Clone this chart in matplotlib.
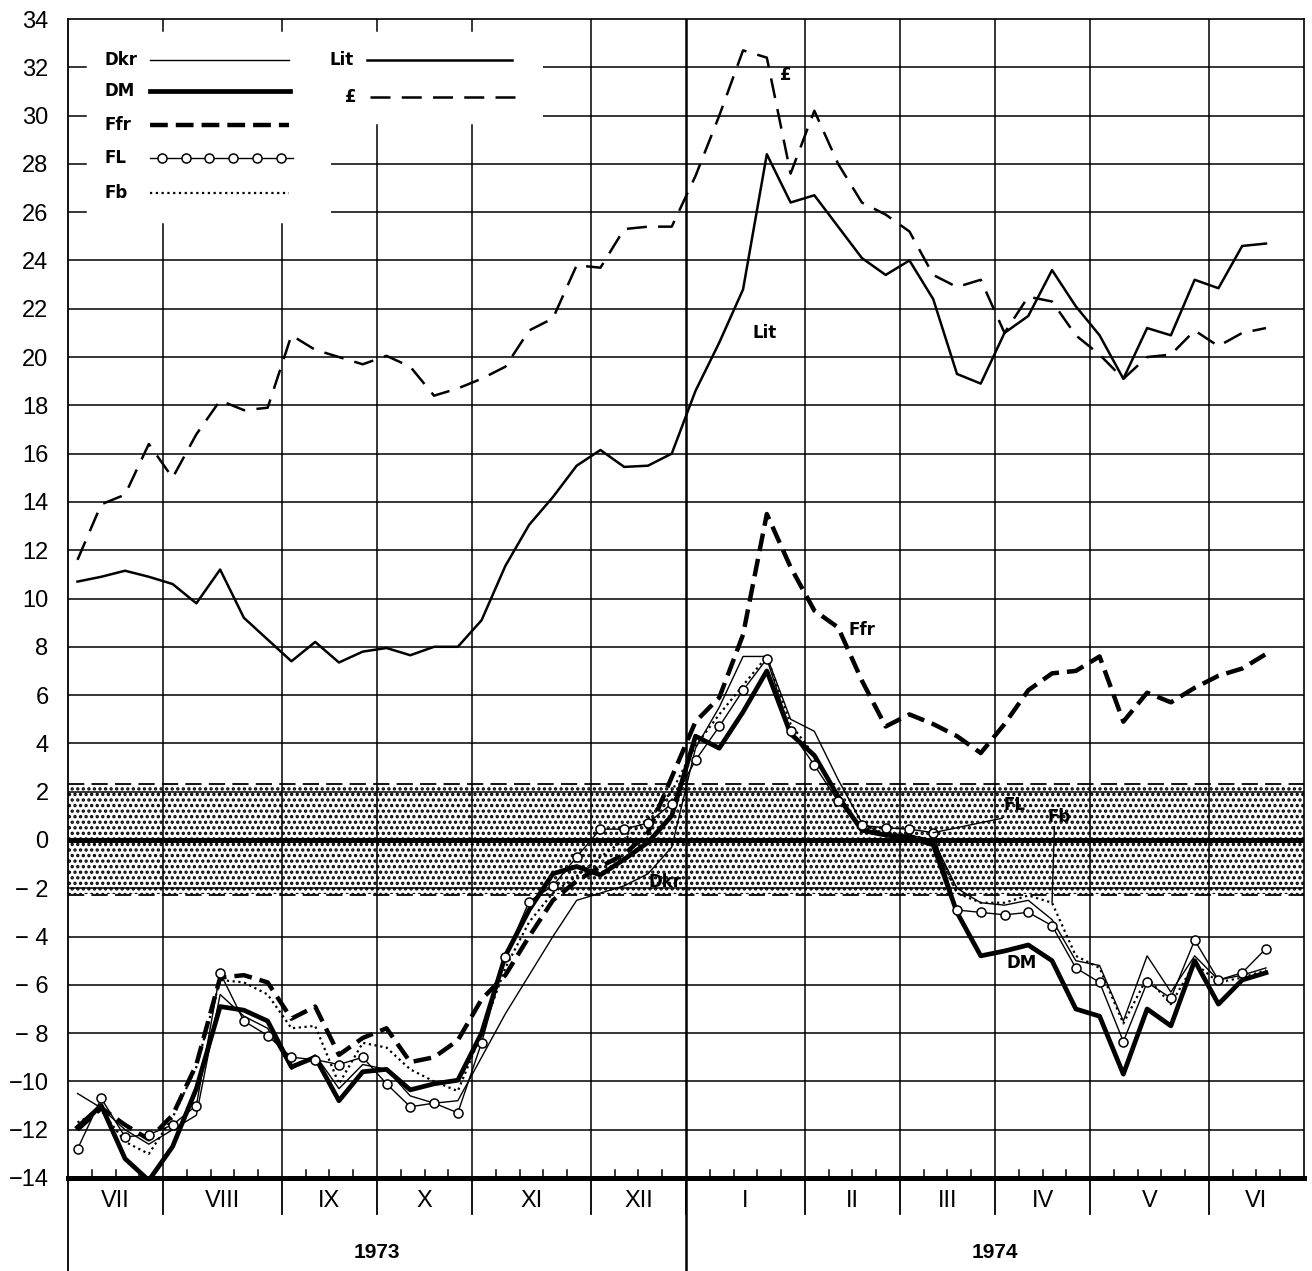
import numpy as np
import matplotlib
matplotlib.use("Agg")
from matplotlib import pyplot as plt

plt.rcParams["font.family"] = ["Liberation Sans", "DejaVu Sans"]
plt.rcParams["hatch.linewidth"] = 1.6

# weekly observations, July 1973 - June 1974 (deviation in %)
gbp = [11.6, 13.9, 14.3, 16.4, 15.0, 16.8, 18.2, 17.8, 17.9, 20.9,
       20.3, 20.0, 19.7, 20.05, 19.6, 18.4, 18.7, 19.1, 19.6, 21.1,
       21.6, 23.8, 23.7, 25.3, 25.4, 25.4, 27.5, 30.0, 32.7, 32.4,
       27.6, 30.2, 28.0, 26.4, 25.9, 25.2, 23.4, 22.9, 23.2, 21.0,
       22.5, 22.3, 20.9, 20.1, 19.1, 20.0, 20.1, 21.1, 20.45, 21.0, 21.2]
lit = [10.7, 10.9, 11.15, 10.9, 10.6, 9.8, 11.2, 9.2, 8.3, 7.4,
       8.2, 7.35, 7.8, 7.95, 7.65, 8.0, 8.0, 9.1, 11.35, 13.05,
       14.2, 15.5, 16.15, 15.45, 15.5, 16.0, 18.6, 20.6, 22.8, 28.4,
       26.4, 26.7, 25.4, 24.1, 23.4, 24.0, 22.4, 19.3, 18.9, 21.0,
       21.7, 23.6, 22.1, 20.9, 19.1, 21.2, 20.9, 23.2, 22.85, 24.6, 24.7]
ffr = [-12.0, -11.1, -11.8, -12.4, -11.4, -9.3, -5.7, -5.6, -5.9, -7.4,
       -6.9, -8.9, -8.2, -7.8, -9.2, -9.0, -8.3, -6.6, -5.6, -4.0,
       -2.5, -1.7, -1.1, -0.6, 0.3, 2.6, 4.9, 5.9, 8.5, 13.5,
       11.3, 9.5, 8.8, 6.6, 4.7, 5.2, 4.8, 4.3, 3.6, 4.8,
       6.2, 6.9, 7.0, 7.6, 4.9, 6.1, 5.7, 6.3, 6.8, 7.1, 7.7]
dm = [-11.9, -11.0, -13.2, -14.1, -12.7, -10.3, -6.9, -7.05, -7.5, -9.4,
      -9.0, -10.8, -9.6, -9.5, -10.35, -10.1, -9.95, -8.0, -4.8, -2.9,
      -1.4, -1.1, -1.45, -0.8, -0.1, 1.0, 4.3, 3.8, 5.3, 7.0,
      4.4, 3.5, 1.8, 0.4, 0.2, 0.1, -0.2, -3.0, -4.8, -4.6,
      -4.35, -5.0, -7.0, -7.3, -9.7, -7.0, -7.7, -5.0, -6.8, -5.8, -5.5]
dkr = [-10.5, -11.1, -12.0, -12.6, -12.0, -11.4, -6.4, -7.3, -7.8, -9.5,
       -8.9, -10.3, -9.3, -9.5, -10.6, -10.9, -10.8, -9.0, -7.2, -5.6,
       -4.0, -2.5, -2.2, -1.9, -1.4, -0.3, 3.8, 5.5, 7.6, 7.6,
       5.0, 4.5, 2.5, 0.7, 0.2, 0.2, 0.0, -2.0, -2.6, -2.7,
       -2.5, -3.3, -5.0, -5.2, -7.5, -4.8, -6.3, -4.8, -5.8, -5.6, -5.3]
fl = [-12.8, -10.7, -12.3, -12.2, -11.8, -11.0, -5.5, -7.5, -8.1, -9.0,
      -9.1, -9.3, -9.0, -10.1, -11.05, -10.9, -11.3, -8.4, -4.85, -2.55,
      -1.9, -0.7, 0.45, 0.45, 0.7, 1.5, 3.3, 4.7, 6.2, 7.5,
      4.5, 3.1, 1.6, 0.6, 0.5, 0.45, 0.3, -2.9, -3.0, -3.1,
      -3.0, -3.55, -5.3, -5.9, -8.35, -5.9, -6.55, -4.15, -5.8, -5.5, -4.5]
fb = [-11.7, -11.2, -12.5, -13.0, -11.5, -9.4, -5.8, -5.9, -6.4, -7.8,
      -7.7, -10.1, -8.4, -8.6, -9.5, -10.0, -10.4, -8.0, -5.3, -3.4,
      -2.2, -1.5, -0.7, 0.0, 0.9, 2.0, 3.9, 5.2, 6.4, 7.6,
      4.8, 3.5, 1.8, 0.5, 0.3, 0.2, 0.0, -2.2, -2.6, -2.6,
      -2.3, -2.6, -4.8, -5.3, -7.6, -5.7, -6.8, -5.1, -5.9, -5.7, -5.4]

months = ["VII", "VIII", "IX", "X", "XI", "XII", "I", "II", "III", "IV", "V", "VI"]
weeks_in_month = [4, 5, 4, 4, 5, 4, 5, 4, 4, 4, 5, 4]
years = ["1973", "1974"]

week_pos = np.arange(len(gbp)) + 0.4
bounds = np.concatenate([[0], np.cumsum(weeks_in_month)])

fig = plt.figure(figsize=(13.12, 12.71), dpi=100)
ax = fig.add_axes([68/1312, 1 - 1178/1271, 1236/1312, 1159/1271])
ax.set_xlim(0, 52)
ax.set_ylim(-14, 34)

# grid, leaving the legend corner blank
box_a = (11.06, 25.5)
box_b = (19.98, 29.6)
for y in range(-12, 34, 2):
    lw = 3.6 if y == 0 else 1.1
    x0 = 0
    if y >= box_b[1]:
        x0 = box_b[0]
    elif y >= box_a[1]:
        x0 = box_a[0]
    if x0 > 0:
        ax.plot([0, 0.75], [y, y], color="black", lw=1.1, zorder=1)
    ax.plot([x0, 52], [y, y], color="black", lw=lw, zorder=1,
            solid_capstyle="butt")
for b in bounds[1:-1]:
    lw = 1.8 if b == 26 else 1.1
    y1 = 34
    if b < box_a[0]:
        y1 = box_a[1]
    elif b < box_b[0]:
        y1 = box_b[1]
    if y1 < 34:
        ax.plot([b, b], [33.5, 34], color="black", lw=lw, zorder=1)
    ax.plot([b, b], [-14, y1], color="black", lw=lw, zorder=1)

# weekly ticks on the base line
for w in range(1, 52):
    if w not in bounds:
        ax.plot([w, w], [-14, -13.65], color="black", lw=1.1, zorder=1)

# intervention band
ax.fill_between([0, 52], -2.25, 2.25, facecolor="none", edgecolor="black",
                hatch="...", linewidth=0, zorder=0.5)
for y in (2.3, -2.3):
    ax.plot([0, 52], [y, y], color="black", lw=1.3, dashes=(9, 4), zorder=1)

# series
ax.plot(week_pos, gbp, color="black", lw=1.8, dashes=(8, 4.5), zorder=3)
ax.plot(week_pos, lit, color="black", lw=1.8, zorder=3)
ax.plot(week_pos, ffr, color="black", lw=3.2, dashes=(4, 1.8), zorder=3)
ax.plot(week_pos, fb, color="black", lw=1.6, dashes=(1, 1.6), zorder=3)
ax.plot(week_pos, dkr, color="black", lw=1.0, zorder=3)
ax.plot(week_pos, dm, color="black", lw=3.4, zorder=4)
ax.plot(week_pos, fl, color="black", lw=1.0, marker="o", ms=6.5,
        mfc="white", mec="black", mew=1.1, zorder=5)

# labels on the curves
lab = dict(fontsize=12, fontweight="bold", family="DejaVu Sans", zorder=6)
ax.text(29.3, 21.0, "Lit", ha="center", va="center", **lab)
ax.text(30.2, 31.7, "£", ha="center", va="center", **lab)
ax.text(33.4, 8.7, "Ffr", ha="center", va="center", **lab)
ax.text(25.1, -1.75, "Dkr", ha="center", va="center", **lab)
ax.text(40.1, -5.1, "DM", ha="center", va="center", **lab)
ax.text(39.8, 1.45, "FL", ha="center", va="center", **lab)
ax.text(41.7, 0.95, "Fb", ha="center", va="center", **lab)
ax.plot([36.4, 39.3], [0.3, 0.9], color="black", lw=1.0, zorder=5)
ax.plot([41.4, 41.5], [-2.6, 0.55], color="black", lw=1.0, zorder=5)

# legend
def key(tx, ty, text, x0, x1, **kw):
    ax.text(tx, ty, text, ha="left", va="center", **lab)
    ax.plot([x0, x1], [ty, ty], color="black", zorder=6, **kw)

key(1.55, 32.3, "Dkr", 3.45, 9.3, lw=1.0)
key(1.55, 31.0, "DM", 3.45, 9.35, lw=3.4)
key(1.55, 29.6, "Ffr", 3.45, 9.3, lw=3.2, dashes=(4, 1.8))
ax.text(1.55, 28.25, "FL", ha="left", va="center", **lab)
ax.plot(np.linspace(3.45, 9.45, 13), [28.25] * 13, color="black", lw=1.0,
        marker="o", ms=6.5, mfc="white", mec="black", mew=1.1,
        markevery=list(range(1, 13, 2)), zorder=6)
key(1.55, 26.8, "Fb", 3.45, 9.3, lw=1.6, dashes=(1, 1.6))
key(11.0, 32.3, "Lit", 12.6, 18.7, lw=1.8)
key(11.65, 30.75, "£", 12.7, 18.8, lw=1.8, dashes=(8, 4.5))

# axes
ax.set_yticks(range(-14, 35, 2))
ax.set_yticklabels([("\u2212" + (" " if abs(v) < 10 else "") + str(abs(v)))
                    if v < 0 else str(v) for v in range(-14, 35, 2)])
ax.set_xticks([])
ax.tick_params(axis="y", length=0, pad=14, labelsize=17)
for s in ("top", "right"):
    ax.spines[s].set_linewidth(1.2)
ax.spines["left"].set_linewidth(1.3)
ax.spines["bottom"].set_linewidth(3.6)

# month and year rows under the chart
for m, lo, hi in zip(months, bounds[:-1], bounds[1:]):
    ax.text((lo + hi) / 2, -14.95, m, ha="center", va="center", fontsize=17,
            clip_on=False)
for b in bounds[1:-1]:
    ax.plot([b, b], [-14, -15.5], color="black", lw=1.3, clip_on=False)
for b in (0, 26):
    ax.plot([b, b], [-14, -18.2], color="black",
            lw=1.3 if b == 0 else 1.8, clip_on=False)
ax.text(13, -17.1, years[0], ha="center", va="center", fontsize=15,
        fontweight="bold", clip_on=False)
ax.text(39, -17.1, years[1], ha="center", va="center", fontsize=15,
        fontweight="bold", clip_on=False)

fig.savefig("out.png", dpi=100)
